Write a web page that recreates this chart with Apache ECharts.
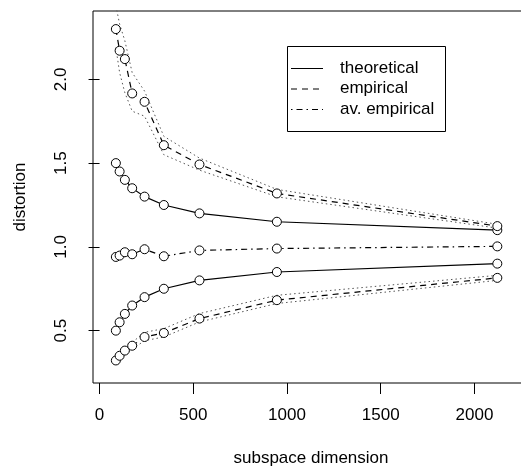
<!DOCTYPE html>
<html>
<head>
<meta charset="utf-8">
<script src="https://cdn.jsdelivr.net/npm/echarts@6/dist/echarts.min.js"></script>
<style>
  html, body { margin: 0; padding: 0; background: #fff; }
  #chart { width: 521px; height: 468px; }
</style>
</head>
<body>
<div id="chart"></div>
<script>
// subspace dimension (x)
var dims = [87, 107, 135, 174, 240, 343, 533, 946, 2122];
// theoretical bounds
var theoHigh = [1.5, 1.45, 1.4, 1.35, 1.3, 1.25, 1.2, 1.15, 1.1];
var theoLow = [0.5, 0.55, 0.6, 0.65, 0.7, 0.75, 0.8, 0.85, 0.9];
// empirical max / min, with dotted bands
var empHigh = [2.300, 2.171, 2.121, 1.916, 1.866, 1.607, 1.492, 1.319, 1.124];
var empHighUp = [2.44, 2.33, 2.23, 2.04, 1.93, 1.66, 1.53, 1.343, 1.135];
var empHighDown = [2.19, 2.04, 1.92, 1.81, 1.78, 1.55, 1.458, 1.299, 1.112];
var empLow = [0.322, 0.35, 0.381, 0.41, 0.462, 0.486, 0.572, 0.682, 0.815];
var empLowUp = [0.34, 0.37, 0.40, 0.43, 0.49, 0.512, 0.602, 0.711, 0.83];
var empLowDown = [0.30, 0.33, 0.36, 0.39, 0.44, 0.462, 0.552, 0.662, 0.80];
// average empirical
var avEmp = [0.94, 0.948, 0.968, 0.956, 0.986, 0.944, 0.979, 0.99, 1.003];
// ticks
var xTicks = [0, 500, 1000, 1500, 2000];
var yTicks = [0.5, 1.0, 1.5, 2.0];
var legendNames = ['theoretical', 'empirical', 'av. empirical'];

var FONT = "'Liberation Sans', Arial, sans-serif";
var DASH = [6, 5];
var DOTDASH = [1.5, 4, 6, 4];
var DOT = [1.5, 3];

function pairs(ys) {
  return dims.map(function (d, i) { return [d, ys[i]]; });
}

// open circles: white fill hides the line inside, like R's type="b"
function markedLine(ys, dash) {
  return {
    type: 'line',
    data: pairs(ys),
    symbol: 'circle',
    symbolSize: 9,
    showSymbol: true,
    showAllSymbol: true,
    itemStyle: { color: '#fff', borderColor: '#000', borderWidth: 1 },
    lineStyle: { color: '#000', width: 1.2, type: dash },
    z: 3
  };
}

function dottedLine(ys) {
  return {
    type: 'line',
    data: pairs(ys),
    symbol: 'none',
    lineStyle: { color: '#555', width: 1, type: DOT },
    z: 2
  };
}

var chart = echarts.init(document.getElementById('chart'));

// legend drawn as a boxed key like the original
var legendRows = [68, 88.5, 109];
var legendDash = ['solid', DASH, DOTDASH];
var graphics = [{
  type: 'rect',
  shape: { x: 287.5, y: 46.5, width: 158, height: 85 },
  style: { fill: '#fff', stroke: '#000', lineWidth: 1 },
  z: 10
}];
legendNames.forEach(function (name, i) {
  graphics.push({
    type: 'line',
    shape: { x1: 291, y1: legendRows[i] + 0.5, x2: 323, y2: legendRows[i] + 0.5 },
    style: { stroke: '#000', lineWidth: 1, lineDash: legendDash[i] === 'solid' ? null : legendDash[i] },
    z: 11
  });
  graphics.push({
    type: 'text',
    x: 340,
    y: legendRows[i],
    style: { text: name, font: '17px ' + FONT, fill: '#000', verticalAlign: 'middle', align: 'left' },
    z: 11
  });
});

var option = {
  animation: false,
  backgroundColor: '#fff',
  grid: {
    left: 93, top: 11, width: 436, height: 372,
    show: true, borderColor: '#000', borderWidth: 1,
    containLabel: false, outerBoundsMode: 'none'
  },
  xAxis: {
    type: 'value',
    min: -35, max: 2291,
    name: 'subspace dimension',
    nameLocation: 'middle',
    nameGap: 67,
    nameTextStyle: { fontFamily: FONT, fontSize: 17, color: '#000', verticalAlign: 'top' },
    axisLine: { show: false },
    splitLine: { show: false },
    axisTick: { show: true, length: 11, lineStyle: { color: '#000' }, customValues: xTicks },
    axisLabel: { fontFamily: FONT, fontSize: 17, color: '#000', margin: 24, customValues: xTicks,
      formatter: function (v) { return String(v); } }
  },
  yAxis: {
    type: 'value',
    min: 0.1875, max: 2.408,
    name: 'distortion',
    nameLocation: 'middle',
    nameGap: 64,
    nameRotate: 90,
    nameTextStyle: { fontFamily: FONT, fontSize: 17, color: '#000' },
    axisLine: { show: false },
    splitLine: { show: false },
    axisTick: { show: true, length: 11, lineStyle: { color: '#000' }, customValues: yTicks },
    axisLabel: { fontFamily: FONT, fontSize: 17, color: '#000', margin: 23, rotate: 90,
      customValues: yTicks,
      formatter: function (v) { return v.toFixed(1); } }
  },
  graphic: graphics,
  series: [
    dottedLine(empHighUp),
    dottedLine(empHighDown),
    dottedLine(empLowUp),
    dottedLine(empLowDown),
    markedLine(theoHigh, 'solid'),
    markedLine(theoLow, 'solid'),
    markedLine(empHigh, DASH),
    markedLine(empLow, DASH),
    markedLine(avEmp, DOTDASH)
  ]
};
chart.setOption(option);
</script>
</body>
</html>
